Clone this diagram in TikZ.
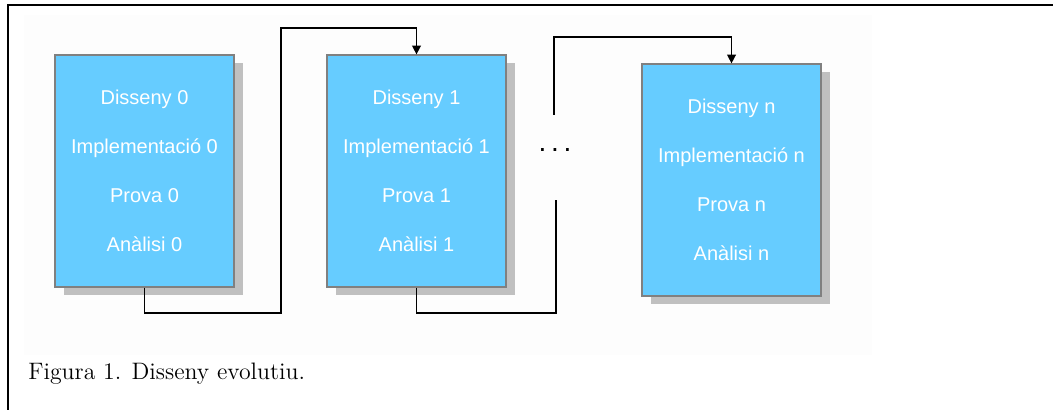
\documentclass[tikz,border=0pt]{standalone}
\usepackage{fontspec}
\newfontfamily\pantalla{Liberation Sans}
\usetikzlibrary{arrows.meta,shadows}

\definecolor{blaucel}{HTML}{66CCFF}
\definecolor{ombra}{HTML}{C0C0C0}

\begin{document}
\begin{tikzpicture}[x=0.5pt,y=-0.5pt]
  \tikzstyle{lien}=[-{Triangle[width=4.4pt,length=4.4pt]},line width=0.7pt,rounded corners=0pt]
\tikzset{etapa/.style={draw=gray,line width=0.6pt,fill=blaucel,text=white,
minimum width=89.5pt,minimum height=116pt,align=center,inner sep=0pt,
font=\pantalla\fontsize{10}{24.5}\selectfont,
drop shadow={fill=ombra,opacity=1,shadow xshift=4.5pt,shadow yshift=-4pt}}}
\useasboundingbox (0,0) rectangle (1053,410);
\fill[black!0.8] (24,15) rectangle (872,355);
\draw[line width=1pt] (8,410) -- (8,5) -- (1053,5);

\node[etapa] (A) at (144.5,171){Disseny 0\\Implementació 0\\Prova 0\\Anàlisi 0};
\node[etapa] (B) at (416.5,171){Disseny 1\\Implementació 1\\Prova 1\\Anàlisi 1};
\node[etapa] (C) at (731.5,180){Disseny n\\Implementació n\\Prova n\\Anàlisi n};

\node[font=\pantalla\fontsize{14}{14}\selectfont] (D) at (555,150){.\hspace{2.4pt}.\hspace{2.4pt}.};
\coordinate (E) at (556,200);
\coordinate (F) at (554,115);

\draw[lien] (A.south) |- (281,313) -- (281,28) -| (B.north);
\draw[line width=0.7pt] (B.south) |- (556,313) -- (E);
\draw[lien] (F) |- (731.5,37) -- (C.north);

\node[anchor=base west,inner sep=0pt,font=\fontsize{11.9}{11.9}\selectfont] (G) at (28,380){Figura 1. Disseny evolutiu.};
\end{tikzpicture}
\end{document}
